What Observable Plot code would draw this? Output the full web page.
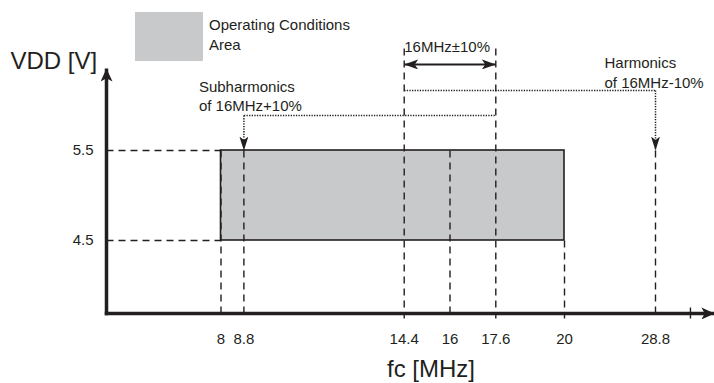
<!DOCTYPE html>
<html>
<head>
<meta charset="utf-8">
<script src="https://cdn.jsdelivr.net/npm/d3@7"></script>
<script src="https://cdn.jsdelivr.net/npm/@observablehq/plot@0.6"></script>
<style>
  html, body { margin: 0; padding: 0; background: #fff; }
  #wrap { position: relative; width: 714px; height: 383px; font-family: "Liberation Sans", Arial, Helvetica, sans-serif; color: #231f20; }
  #legend { position: absolute; left: 135px; top: 12px; display: flex; align-items: flex-start; }
  #legend .sw { width: 68px; height: 49px; background: #c8c9ca; }
  #legend .lb { margin-left: 6px; margin-top: 3px; font-size: 15px; line-height: 20px; }
</style>
</head>
<body>
<div id="wrap">
  <div id="chart"></div>
  <div id="legend"><div class="sw"></div><div class="lb">Operating Conditions<br>Area</div></div>
</div>
<script>
// ---- data ----
const xTicks = [8, 8.8, 14.4, 16, 17.6, 20, 28.8];
const yTicks = [4.5, 5.5];
const areaFc = [8, 20];          // operating fc range [MHz]
const areaVdd = [4.5, 5.5];      // operating VDD range [V]
const fcCenter = 16;
const fcLow = 14.4, fcHigh = 17.6;   // 16MHz ± 10%
const subHarm = 8.8;                  // (16MHz+10%)/2
const harm = 28.8;                    // 2*(16MHz-10%)
// diagram construction levels (in axis units)
const axisOrigin = {x: 4, y: 3.689};
const axisEnd = {x: 34.5, y: 6.41};
const tickBelow = 3.633;
const axisTickX = 32.18;
const subLevel = 5.889, harmLevel = 6.167, bandLevel = 6.456, guideTop = 6.633;

const ink = "#231f20";
const font = "Liberation Sans, Arial, Helvetica, sans-serif";

const head = (len, wid) => (color) => {
  const m = d3.create("svg:marker")
    .attr("viewBox", `${-len} ${-wid / 2} ${len} ${wid}`)
    .attr("markerWidth", len).attr("markerHeight", wid)
    .attr("markerUnits", "userSpaceOnUse")
    .attr("refX", 0).attr("refY", 0)
    .attr("orient", "auto-start-reverse")
    .attr("fill", color).attr("stroke", "none");
  m.append("path").attr("d", `M${-len},${-wid / 2}L0,0L${-len},${wid / 2}L${-len * 0.75},0Z`);
  return m.node();
};

// vertical dashed guides: [x, yTop]
const vGuides = [
  {x: areaFc[0], y1: areaVdd[1]},
  {x: subHarm, y1: areaVdd[1]},
  {x: fcLow, y1: guideTop},
  {x: fcCenter, y1: areaVdd[1]},
  {x: fcHigh, y1: guideTop},
  {x: areaFc[1], y1: areaVdd[0]},
  {x: harm, y1: areaVdd[1]}
];

const dotted = {stroke: ink, strokeWidth: 1.5, strokeDasharray: "1.3,1.3"};
const dashed = {stroke: ink, strokeWidth: 1.4, strokeDasharray: "7,5"};

const chart = Plot.plot({
  width: 714,
  height: 383,
  margin: 0,
  x: {type: "linear", domain: [4, 20, 28.8], range: [106, 564, 655], axis: null},
  y: {type: "linear", domain: [4.5, 5.5], range: [240, 150], axis: null},
  style: {fontFamily: font, color: ink, background: "transparent"},
  marks: [
    // operating area
    Plot.rect([0], {x1: areaFc[0], x2: areaFc[1], y1: areaVdd[0], y2: areaVdd[1], fill: "#c8c9ca", stroke: ink, strokeWidth: 1.6}),
    // horizontal dashed guides to y axis
    Plot.link(yTicks, {x1: axisOrigin.x, x2: areaFc[0], y1: d => d, y2: d => d, ...dashed}),
    // vertical dashed guides
    Plot.link(vGuides, {x1: "x", x2: "x", y1: "y1", y2: tickBelow, ...dashed}),
    // dotted subharmonics path
    Plot.link([0], {x1: subHarm, x2: fcHigh, y1: subLevel, y2: subLevel, ...dotted}),
    Plot.link([0], {x1: subHarm, x2: subHarm, y1: subLevel, y2: areaVdd[1], ...dotted, markerEnd: head(14, 9)}),
    // dotted harmonics path
    Plot.link([0], {x1: fcLow, x2: harm, y1: harmLevel, y2: harmLevel, ...dotted}),
    Plot.link([0], {x1: harm, x2: harm, y1: harmLevel, y2: areaVdd[1], ...dotted, markerEnd: head(14, 9)}),
    // ±10% double arrow
    Plot.link([0], {x1: fcLow, x2: fcHigh, y1: bandLevel, y2: bandLevel, stroke: ink, strokeWidth: 2, markerStart: head(14, 10), markerEnd: head(14, 10)}),
    // axes
    Plot.link([0], {x1: axisOrigin.x, x2: axisOrigin.x, y1: axisOrigin.y - 0.02, y2: axisEnd.y, stroke: ink, strokeWidth: 3.5, markerEnd: head(13, 12)}),
    Plot.link([0], {x1: axisOrigin.x - 0.06, x2: axisEnd.x, y1: axisOrigin.y, y2: axisOrigin.y, stroke: ink, strokeWidth: 3.5, markerEnd: head(13, 12)}),
    Plot.link([0], {x1: axisTickX, x2: axisTickX, y1: tickBelow, y2: 3.756, stroke: ink, strokeWidth: 1.4}),
    // tick labels
    Plot.text(xTicks, {x: d => d, y: axisOrigin.y, dy: 26, text: d => String(d), fontSize: 15, fill: ink}),
    Plot.text(yTicks, {x: axisOrigin.x, y: d => d, dx: -13, text: d => String(d), textAnchor: "end", fontSize: 15, fill: ink}),
    // annotations
    Plot.text([0], {x: fcLow, y: bandLevel, dy: -17, text: ["16MHz±10%"], textAnchor: "start", fontSize: 15, fill: ink}),
    Plot.text([0], {x: harm, y: harmLevel, dx: -51, dy: -19, text: ["Harmonics\nof 16MHz-10%"], textAnchor: "start", lineHeight: 1.33, fontSize: 15, fill: ink}),
    Plot.text([0], {x: subHarm, y: subLevel, dx: -45, dy: -20, text: ["Subharmonics\nof 16MHz+10%"], textAnchor: "start", lineHeight: 1.27, fontSize: 15, fill: ink}),
    // axis labels
    Plot.text([0], {x: axisOrigin.x, y: axisEnd.y, dx: -96, dy: -7, text: ["VDD [V]"], textAnchor: "start", fontSize: 24, fill: ink}),
    Plot.text([0], {x: fcCenter, y: axisOrigin.y, dx: -19, dy: 56, text: ["fc [MHz]"], fontSize: 24, fill: ink})
  ]
});
document.getElementById("chart").appendChild(chart);
</script>
</body>
</html>
